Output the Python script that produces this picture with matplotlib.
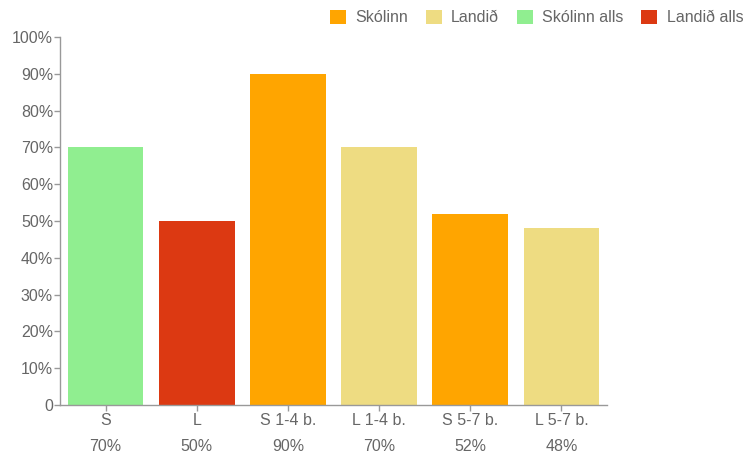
import numpy as np
import matplotlib.pyplot as plt
from matplotlib.patches import Patch

plt.rcParams['font.family'] = ['Liberation Sans', 'DejaVu Sans']

categories = ['S', 'L', 'S 1-4 b.', 'L 1-4 b.', 'S 5-7 b.', 'L 5-7 b.']
values = [70, 50, 90, 70, 52, 48]
value_labels = ['70%', '50%', '90%', '70%', '52%', '48%']
series = ['Skólinn alls', 'Landið alls', 'Skólinn', 'Landið', 'Skólinn', 'Landið']

colors = {
    'Skólinn': '#ffa500',
    'Landið': '#eedc82',
    'Skólinn alls': '#90ee90',
    'Landið alls': '#dc3912',
}
legend_order = ['Skólinn', 'Landið', 'Skólinn alls', 'Landið alls']

text_col = '#666666'
axis_col = '#999999'
fs = 11.5

fig = plt.figure(figsize=(7.53, 4.57), dpi=100)
ax = fig.add_axes([60 / 753, 52 / 457, 547 / 753, 368 / 457])

x = np.arange(len(categories))
ax.bar(x, values, width=0.83, color=[colors[s] for s in series], zorder=2)

ax.set_xlim(-0.5, len(categories) - 0.5)
ax.set_ylim(0, 100)
ax.set_yticks(np.arange(0, 101, 10))
ax.set_yticklabels(['0'] + [f'{v}%' for v in range(10, 101, 10)])
ax.set_xticks(x)
ax.set_xticklabels(categories)

for spine in ['top', 'right']:
    ax.spines[spine].set_visible(False)
for spine in ['left', 'bottom']:
    ax.spines[spine].set_color(axis_col)
    ax.spines[spine].set_linewidth(1)

ax.tick_params(axis='both', colors=axis_col, labelcolor=text_col, labelsize=fs,
               length=4, width=1, direction='out')
ax.tick_params(axis='x', pad=2)
ax.tick_params(axis='y', pad=1)

# value labels under the category names
for xi, lab in zip(x, value_labels):
    ax.annotate(lab, xy=(xi, 0), xycoords='data', xytext=(0, -30),
                textcoords='offset points', ha='center', va='center',
                color=text_col, fontsize=fs)

handles = [Patch(facecolor=colors[k], edgecolor='none') for k in legend_order]
fig.legend(handles, legend_order, loc='upper right', bbox_to_anchor=(1.0, 1.0),
           ncol=4, frameon=False, fontsize=fs, labelcolor=text_col,
           handlelength=1.0, handleheight=1.0, handletextpad=0.6,
           columnspacing=1.1, borderaxespad=0.2)

fig.savefig('out.png', dpi=100)
